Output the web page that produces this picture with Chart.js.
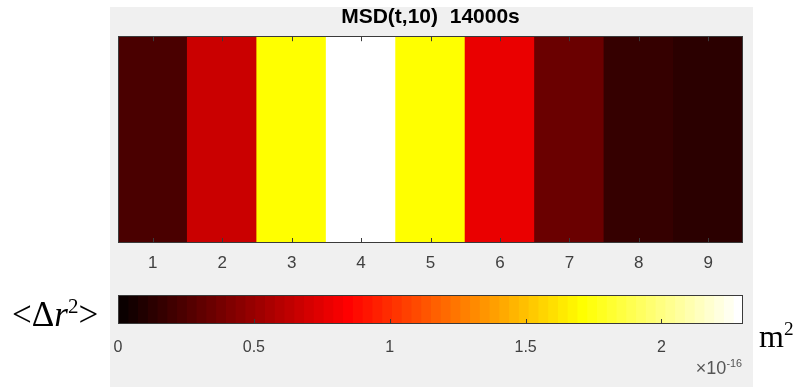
<!DOCTYPE html>
<html>
<head>
<meta charset="utf-8">
<script src="https://cdn.jsdelivr.net/npm/chart.js@4.4.1/dist/chart.umd.min.js"></script>
<style>
  html, body { margin: 0; padding: 0; background: #fff; }
  body { width: 797px; height: 387px; position: relative; overflow: hidden; }
  .panel { position: absolute; left: 110px; top: 7px; width: 643px; height: 380px; background: #f0f0f0; }
  canvas { position: absolute; left: 0; }
  .lbl { position: absolute; font-family: "Liberation Serif", "DejaVu Serif", serif; color: #000; white-space: nowrap; }
  .exp { position: absolute; font-family: "Liberation Sans", Arial, sans-serif; color: #555; font-size: 18px; white-space: nowrap; }
  sup { font-size: 60%; }
</style>
</head>
<body>
<div class="panel"></div>
<canvas id="heat" width="797" height="290" style="top:0"></canvas>
<canvas id="cbar" width="797" height="107" style="top:280px"></canvas>
<div class="lbl" style="left:12px; top:294px; font-size:35px;">&lt;&Delta;<i>r</i><sup>2</sup>&gt;</div>
<div class="lbl" style="left:759px; top:318px; font-size:32px;">m<sup>2</sup></div>
<div class="exp" style="right:55px; top:357px;">&times;10<sup>-16</sup></div>
<script>
// MSD values per site, in units of 1e-16 m^2
const sites = ['1', '2', '3', '4', '5', '6', '7', '8', '9'];
const msd = [0.25, 0.67, 1.70, 2.30, 1.70, 0.79, 0.33, 0.17, 0.14];
const cmin = 0;
const cmax = 2.3;
const cbTicks = [0, 0.5, 1, 1.5, 2];
const nColors = 64;

// MATLAB "hot" colormap, 64 steps
const hot = (t) => {
  const i = Math.max(0, Math.min(nColors - 1, Math.floor(t * nColors)));
  const clamp = (x) => Math.max(0, Math.min(1, x));
  const r = clamp((i + 1) / 24);
  const g = clamp((i + 1 - 24) / 24);
  const b = clamp((i + 1 - 48) / 16);
  return `rgb(${Math.round(r * 255)},${Math.round(g * 255)},${Math.round(b * 255)})`;
};

const tickFont = { family: '"Liberation Sans", Arial, sans-serif', size: 17 };

// frame + inward tick marks, matlab style
const frame = (ticksTop) => ({
  id: 'frame',
  afterDraw(chart) {
    const { ctx, chartArea: a } = chart;
    const xs = chart.scales.x;
    ctx.save();
    ctx.strokeStyle = '#3a3a3a';
    ctx.lineWidth = 1;
    ctx.strokeRect(Math.round(a.left) + 0.5, Math.round(a.top) + 0.5,
      Math.round(a.right - a.left) - 1, Math.round(a.bottom - a.top) - 1);
    ctx.beginPath();
    xs.ticks.forEach((t, i) => {
      const x = Math.round(xs.getPixelForTick(i)) + 0.5;
      ctx.moveTo(x, a.bottom);
      ctx.lineTo(x, a.bottom - 5);
      if (ticksTop) {
        ctx.moveTo(x, a.top);
        ctx.lineTo(x, a.top + 5);
      }
    });
    ctx.stroke();
    ctx.restore();
  }
});

new Chart(document.getElementById('heat'), {
  type: 'bar',
  data: {
    labels: sites,
    datasets: [{
      data: msd.map(() => 1),
      backgroundColor: msd.map((v) => hot((v - cmin) / (cmax - cmin))),
      borderWidth: 0,
      barPercentage: 1,
      categoryPercentage: 1,
      inflateAmount: 0.5
    }]
  },
  options: {
    responsive: false,
    animation: false,
    layout: { padding: { left: 118, right: 54, top: 5, bottom: 7 } },
    plugins: {
      legend: { display: false },
      tooltip: { enabled: false },
      title: {
        display: true,
        text: 'MSD(t,10)  14000s',
        color: '#000',
        font: { family: '"Liberation Sans", Arial, sans-serif', size: 21, weight: 'bold' },
        padding: { top: 0, bottom: 6 }
      }
    },
    scales: {
      x: {
        offset: true,
        grid: { display: false, drawTicks: false },
        border: { display: false },
        ticks: { color: '#404040', font: tickFont, padding: 10, maxRotation: 0 },
        afterFit: (s) => { s.height = 40; }
      },
      y: { display: false, min: 0, max: 1 }
    }
  },
  plugins: [frame(true)]
});

// colorbar: one floating bar per colormap step
const bins = Array.from({ length: nColors }, (_, k) => k);
const step = (cmax - cmin) / nColors;

new Chart(document.getElementById('cbar'), {
  type: 'bar',
  data: {
    labels: [''],
    datasets: bins.map((k) => ({
      data: [[cmin + k * step, cmin + (k + 1) * step]],
      backgroundColor: hot((k + 0.5) / nColors),
      borderWidth: 0,
      barPercentage: 1,
      categoryPercentage: 1,
      grouped: false,
      inflateAmount: 0.5
    }))
  },
  options: {
    indexAxis: 'y',
    responsive: false,
    animation: false,
    layout: { padding: { left: 118, right: 54, top: 15, bottom: 0 } },
    plugins: { legend: { display: false }, tooltip: { enabled: false } },
    scales: {
      x: {
        type: 'linear',
        min: cmin,
        max: cmax,
        grid: { display: false, drawTicks: false },
        border: { display: false },
        afterBuildTicks: (s) => { s.ticks = cbTicks.map((v) => ({ value: v })); },
        ticks: {
          color: '#404040',
          font: { ...tickFont, size: 16 },
          padding: 14,
          maxRotation: 0,
          callback: (v) => String(v)
        },
        afterFit: (s) => { s.height = 63; }
      },
      y: { display: false }
    }
  },
  plugins: [frame(false)]
});
</script>
</body>
</html>
